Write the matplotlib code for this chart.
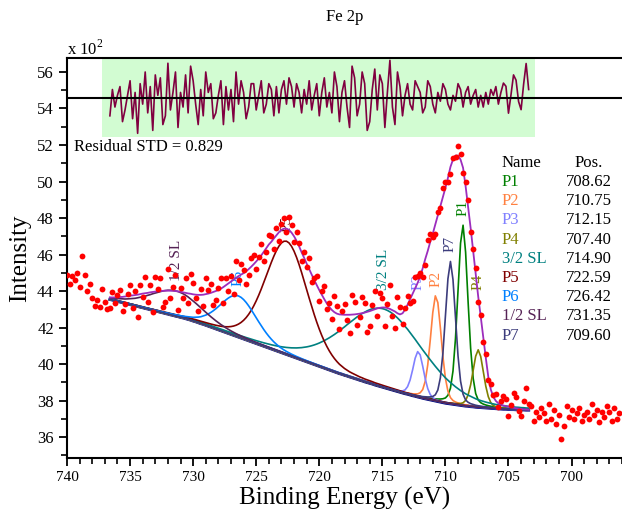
import numpy as np
import matplotlib
matplotlib.use("Agg")
import matplotlib.pyplot as plt

plt.rcParams['font.family'] = 'Liberation Serif'
plt.rcParams['mathtext.fontset'] = 'custom'
plt.rcParams['mathtext.rm'] = 'Liberation Serif'

# measured spectrum, 696.2 ... 740.0 eV in 0.2 eV steps (intensity in 10^2)
energy = np.round(np.arange(696.2, 740.01, 0.2), 1)
counts = np.array([
    37.3, 37.0, 37.6, 36.9, 37.4, 37.7, 37.1, 37.4, 36.8, 37.5,
    37.2, 37.8, 37.0, 37.4, 37.2, 36.9, 37.6, 37.3, 37.0, 37.5,
    37.1, 37.7, 36.6, 35.9, 37.2, 36.7, 37.5, 37.0, 37.8, 36.9,
    37.3, 37.6, 37.1, 37.4, 36.9, 37.7,
    37.8, 38.7, 38.0, 37.15, 37.45, 38.2, 38.4, 37.75, 37.15, 38.1,
    38.25, 37.98, 37.65, 38.38, 38.3, 38.9, 39.1, 40.55, 41.2, 42.7,
    43.4, 45.25, 46.3, 47.25, 49.0, 49.95, 50.45, 51.5, 51.92, 51.32,
    51.3, 50.4, 50.0, 49.95, 49.65, 48.55, 48.35, 47.15, 46.95, 47.1,
    46.8, 45.45, 44.75, 45.0, 44.85, 44.75, 43.45, 43.35, 43.75, 43.08,
    42.18, 43.12, 43.68, 41.98, 42.65, 44.32, 43.27, 42.1, 43.6, 43.88,
    42.65, 44.0, 43.25, 42.1, 41.76, 43.32, 43.69, 42.56, 42.14, 43.42,
    43.81, 41.7, 42.4, 43.3, 42.91, 41.92, 43.16, 43.74, 42.46, 43.32,
    43.02, 44.25, 44.0, 43.45, 44.82, 44.7, 44.5, 45.8, 45.3, 46.12,
    45.62, 46.65, 47.25, 46.7, 47.6, 48.05, 47.22, 48.02, 47.65, 46.72,
    47.45, 46.28, 47.0, 47.05, 46.15, 45.65, 46.55, 45.88, 45.22, 45.97,
    45.83, 44.9, 44.38, 45.18, 45.5, 44.62, 45.62, 43.82, 44.82, 44.02,
    44.72, 43.32, 44.73, 44.15, 43.5, 43.25, 44.4, 44.06, 44.73, 43.2,
    44.09, 42.89, 43.6, 44.42, 44.95, 43.37, 44.7, 43.63, 44.16, 42.98,
    44.9, 44.21, 43.62, 45.22, 43.42, 43.11, 44.7, 44.09, 44.77, 42.85,
    44.33, 43.4, 44.78, 43.66, 44.33, 42.6, 43.98, 43.06, 44.34, 43.82,
    43.3, 42.88, 44.07, 43.76, 43.35, 43.95, 43.05,
    43.0, 43.4, 44.1, 43.1, 43.5, 43.2, 43.6, 44.4, 44.0, 44.9,
    45.9, 44.2, 45.0, 44.6, 44.8, 44.4, 44.9,
])

# fit range 703.4 ... 736.6 eV, 0.2 eV steps
fit_energy = np.round(np.arange(703.4, 736.61, 0.2), 1)
envelope = np.array([
    37.50, 37.51, 37.52, 37.54, 37.56, 37.58, 37.60, 37.63, 37.66, 37.69,
    37.73, 37.78, 37.85, 37.98, 38.20, 38.60, 39.30, 40.35, 41.50, 42.60,
    43.70, 44.95, 46.20, 47.45, 48.60, 49.75, 50.75, 51.20, 51.42, 51.42,
    51.20, 50.80, 50.20, 49.65, 49.15, 48.65, 48.15, 47.65, 47.15, 46.70,
    46.20, 45.75, 45.25, 44.80, 44.45, 44.15, 43.85, 43.55, 43.25, 42.98,
    42.78, 42.72, 42.78, 42.88, 42.95, 43.02, 43.07, 43.10, 43.10, 43.08,
    43.05, 43.00, 42.95, 42.90, 42.86, 42.82, 42.79, 42.76, 42.74, 42.72,
    42.71, 42.70, 42.70, 42.70, 42.71, 42.72, 42.76, 42.84, 42.96, 43.12,
    43.32, 43.55, 43.80, 44.05, 44.32, 44.60, 44.90, 45.20, 45.50, 45.82,
    46.12, 46.45, 46.75, 47.00, 47.20, 47.35, 47.42, 47.42, 47.35, 47.22,
    47.05, 46.88, 46.70, 46.55, 46.35, 46.15, 45.95, 45.78, 45.62, 45.47,
    45.33, 45.20, 45.08, 44.98, 44.90, 44.82, 44.72, 44.62, 44.52, 44.42,
    44.32, 44.22, 44.13, 44.05, 44.00, 43.95, 43.90, 43.86, 43.83, 43.80,
    43.79, 43.79, 43.80, 43.82, 43.85, 43.87, 43.90, 43.93, 43.96, 43.98,
    44.00, 44.01, 44.02, 44.02, 44.02, 44.01, 44.00, 43.99, 43.97, 43.95,
    43.93, 43.90, 43.88, 43.86, 43.83, 43.80, 43.78, 43.76, 43.74, 43.72,
    43.70, 43.68, 43.67, 43.66, 43.65, 43.65, 43.65,
])
background = np.array([
    37.48, 37.48, 37.49, 37.49, 37.50, 37.50, 37.51, 37.51, 37.52, 37.53,
    37.53, 37.54, 37.55, 37.56, 37.57, 37.58, 37.59, 37.60, 37.61, 37.62,
    37.63, 37.64, 37.66, 37.67, 37.69, 37.70, 37.72, 37.74, 37.76, 37.78,
    37.80, 37.82, 37.84, 37.86, 37.89, 37.92, 37.95, 37.98, 38.01, 38.04,
    38.07, 38.10, 38.13, 38.17, 38.20, 38.24, 38.27, 38.31, 38.35, 38.38,
    38.42, 38.46, 38.50, 38.54, 38.58, 38.62, 38.66, 38.70, 38.74, 38.78,
    38.82, 38.86, 38.91, 38.95, 38.99, 39.03, 39.08, 39.12, 39.17, 39.21,
    39.26, 39.30, 39.35, 39.39, 39.44, 39.48, 39.53, 39.58, 39.63, 39.68,
    39.73, 39.78, 39.83, 39.88, 39.93, 39.98, 40.03, 40.08, 40.13, 40.18,
    40.23, 40.28, 40.33, 40.38, 40.43, 40.48, 40.53, 40.58, 40.63, 40.68,
    40.73, 40.78, 40.83, 40.88, 40.93, 40.98, 41.03, 41.08, 41.13, 41.18,
    41.23, 41.28, 41.33, 41.38, 41.43, 41.48, 41.53, 41.58, 41.63, 41.68,
    41.73, 41.78, 41.83, 41.88, 41.93, 41.98, 42.03, 42.08, 42.13, 42.18,
    42.22, 42.27, 42.32, 42.36, 42.41, 42.45, 42.49, 42.53, 42.56, 42.60,
    42.63, 42.67, 42.70, 42.74, 42.77, 42.81, 42.84, 42.88, 42.91, 42.95,
    42.98, 43.02, 43.05, 43.09, 43.12, 43.16, 43.19, 43.23, 43.26, 43.30,
    43.33, 43.37, 43.40, 43.44, 43.47, 43.51, 43.54,
])

# fitted peaks
peak_names = ["P1", "P2", "P3", "P4", "3/2 SL", "P5", "P6", "1/2 SL", "P7"]
peak_pos = [708.62, 710.75, 712.15, 707.40, 714.90, 722.59, 726.42, 731.35, 709.60]
peak_height = [9.9, 5.8, 2.5, 3.15, 4.3, 6.2, 2.25, 1.38, 7.8]
peak_fwhm = [0.95, 1.0, 1.0, 1.0, 7.5, 4.0, 3.5, 4.8, 0.95]
peak_colors = ["#008000", "#ff8040", "#8080ff", "#808000", "#008080",
               "#800000", "#0080ff", "#552255", "#3c3c7c"]

residual_std = 0.829
resid_offset = 54.56
resid_scale = 1.6
resid_box = (702.9, 737.2)


def pvoigt(x, c, h, w, eta=0.25):
    d = (x - c) / w
    return h * ((1 - eta) * np.exp(-4 * np.log(2) * d * d) + eta / (1 + 4 * d * d))


fig = plt.figure(figsize=(6.22, 5.16), dpi=100)
ax = fig.add_axes([67 / 622, 1 - 457.7 / 516, 555 / 622, 399.4 / 516])

# residual panel
ax.axvspan(resid_box[0], resid_box[1], ymin=0.802, ymax=1, color="#d2fcd2", lw=0, zorder=0)
in_fit = (energy > 703.3) & (energy < 736.7)
resid = counts[in_fit] - envelope
ax.plot(fit_energy, resid_offset + resid_scale * resid, color="#800040", lw=1.2, zorder=2)
ax.axhline(resid_offset, color="k", lw=1.5, zorder=3)

# fit
ax.plot(fit_energy, background, color="#000080", lw=2.2, zorder=3)
for name, c, h, w, col in zip(peak_names, peak_pos, peak_height, peak_fwhm, peak_colors):
    comp = background + pvoigt(fit_energy, c, h, w)
    ax.plot(fit_energy, comp, color=col, lw=1.2, zorder=3)
    ax.text(c, comp.max() + 0.5, name, rotation=90, ha="center", va="bottom",
            color=col, fontsize=11, zorder=2)
ax.plot(fit_energy, envelope, color="#9d2dbd", lw=1.3, zorder=4)
ax.plot(energy, counts, "o", color="#ff0000", ms=4.2, mec="none", zorder=5)

ax.set_xlim(740, 696.2)
ax.set_ylim(34.87, 56.75)
ax.set_xticks(np.arange(740, 699, -5))
ax.set_xticks(np.arange(740, 695, -1), minor=True)
ax.set_yticks(np.arange(36, 57, 2))
ax.set_yticks(np.arange(35, 57, 1), minor=True)
ax.tick_params(axis="x", labelsize=11)
ax.tick_params(axis="y", labelsize=12)
ax.tick_params(which="major", direction="out", length=6, width=1.3)
ax.tick_params(which="minor", direction="out", length=4, width=1.2)
ax.spines["right"].set_visible(False)
for s in ["left", "bottom", "top"]:
    ax.spines[s].set_linewidth(1.5)

ax.set_xlabel("Binding Energy (eV)", fontsize=18, labelpad=2)
ax.set_ylabel("Intensity", fontsize=18)
ax.yaxis.set_label_coords(-0.065, 0.5)

ax.text(0.0, 1.0, r"x 10$^2$", transform=ax.transAxes, ha="left", va="bottom", fontsize=12)
ax.text(0.0126, 0.778, "Residual STD = %.3f" % residual_std, transform=ax.transAxes,
        ha="left", va="center", fontsize=12)
fig.text(345 / 622, 1 - 17 / 516, "Fe 2p", ha="center", va="center", fontsize=12)

# peak table
fig.text(502 / 622, 1 - 163 / 516, "Name", ha="left", va="center", fontsize=12)
fig.text(575 / 622, 1 - 163 / 516, "Pos.", ha="left", va="center", fontsize=12)
for i, (name, c, col) in enumerate(zip(peak_names, peak_pos, peak_colors)):
    y = 1 - (182 + 19.2 * i) / 516
    fig.text(502 / 622, y, name, ha="left", va="center", fontsize=12, color=col)
    fig.text(612 / 622, y, "%.2f" % c, ha="right", va="center", fontsize=12)

fig.savefig("out.png", dpi=100)
